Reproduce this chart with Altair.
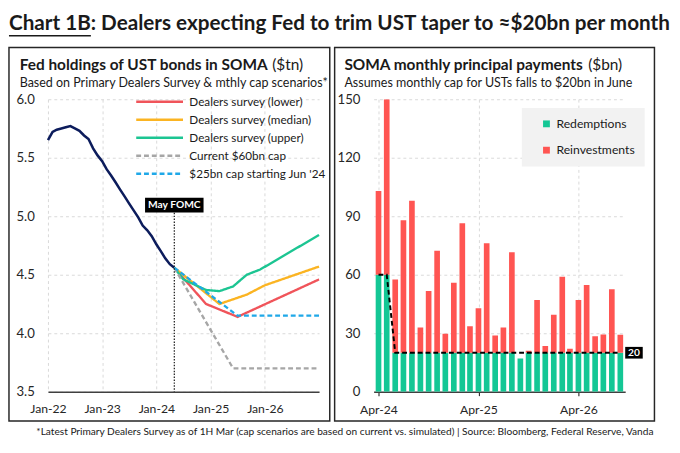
import pandas as pd
import altair as alt

FONT = "Lato"
INK = "#1a1a1a"
GRID = "#d9d9d9"

main_title = "Chart 1B: Dealers expecting Fed to trim UST taper to ≈$20bn per month"
footer_text = ("*Latest Primary Dealers Survey as of 1H Mar (cap scenarios are based on current vs. simulated)"
               " | Source: Bloomberg, Federal Reserve, Vanda")

# ---- left panel: Fed UST holdings in SOMA ($tn)
left_title = "Fed holdings of UST bonds in SOMA"
left_unit = "($tn)"
left_sub = "Based on Primary Dealers Survey & mthly cap scenarios*"

hist_start = "2022-01-01"
hist_values = [5.65, 5.72, 5.74, 5.75, 5.76, 5.77, 5.75, 5.73, 5.69, 5.66,
               5.58, 5.52, 5.47, 5.40, 5.35, 5.29, 5.23, 5.17, 5.11, 5.05,
               4.99, 4.92, 4.88, 4.83, 4.76, 4.70, 4.64, 4.59, 4.56]

scen_names = ["Dealers survey (lower)", "Dealers survey (median)", "Dealers survey (upper)",
              "Current $60bn cap", "$25bn cap starting Jun '24"]
scen_colors = ["#f0545a", "#fbb422", "#1cc592", "#a6a6a6", "#1fa8e8"]
scen_dash = [[1, 0], [1, 0], [1, 0], [5, 3], [5, 3]]

lower_dates = ["2024-05-01", "2024-12-01", "2025-07-01", "2027-01-01"]
lower_vals = [4.56, 4.25, 4.14, 4.46]
median_dates = ["2024-05-01", "2025-03-01", "2025-06-01", "2025-09-01", "2026-01-01", "2027-01-01"]
median_vals = [4.56, 4.25, 4.29, 4.33, 4.41, 4.57]
upper_dates = ["2024-05-01", "2024-07-01", "2024-12-01", "2025-03-01", "2025-06-01",
               "2025-09-01", "2025-12-01", "2027-01-01"]
upper_vals = [4.56, 4.46, 4.37, 4.36, 4.40, 4.50, 4.545, 4.84]
cap60_dates = ["2024-05-01", "2025-06-01", "2027-01-01"]
cap60_vals = [4.56, 3.70, 3.70]
cap25_dates = ["2024-05-01", "2025-07-01", "2027-01-01"]
cap25_vals = [4.56, 4.15, 4.15]

fomc_date = "2024-05-01"
fomc_text = "May FOMC"
fomc_label_y = 5.095
fomc_line_top = 5.03

# ---- right panel: SOMA monthly principal payments ($bn)
right_title = "SOMA monthly principal payments"
right_unit = "($bn)"
right_sub = "Assumes monthly cap for USTs falls to $20bn in June"

pay_start = "2024-04-01"
redemptions = [60, 60, 20, 20, 20, 20, 20, 20, 20, 20,
               20, 20, 20, 20, 20, 20, 20, 17, 20, 20,
               20, 20, 20, 20, 20, 20, 20, 20, 20, 20]
reinvestments = [43, 90, 37.5, 68, 78, 13, 31.6, 52.3, 9.7, 35.9,
                 66.4, 13.6, 22.8, 56.2, 8.9, 13, 51.5, 0, 1, 27,
                 3.5, 19.5, 39, 2, 27, 34.8, 8.5, 9.4, 32.6, 9.2]
cap_line = [60, 60, 20, 20, 20, 20, 20, 20, 20, 20,
            20, 20, 20, 20, 20, 20, 20, 20, 20, 20,
            20, 20, 20, 20, 20, 20, 20, 20, 20, 20]
kinds = ["Redemptions", "Reinvestments"]
kind_colors = ["#14c795", "#ff5552"]

# ---- tables
hist_df = pd.DataFrame({"date": pd.date_range(hist_start, periods=len(hist_values), freq="MS"),
                        "value": hist_values})
scen_parts = []
for name, d, v in zip(scen_names,
                      [lower_dates, median_dates, upper_dates, cap60_dates, cap25_dates],
                      [lower_vals, median_vals, upper_vals, cap60_vals, cap25_vals]):
    scen_parts.append(pd.DataFrame({"date": pd.to_datetime(d), "value": v, "series": name}))
scen_df = pd.concat(scen_parts, ignore_index=True)
fomc_df = pd.DataFrame({"date": [pd.Timestamp(fomc_date)], "ly": [fomc_label_y],
                        "top": [fomc_line_top], "bottom": [3.5], "t": [fomc_text]})

months = pd.date_range(pay_start, periods=len(redemptions), freq="MS")
bars_df = pd.DataFrame({"month": list(months) * 2,
                        "value": redemptions + reinvestments,
                        "kind": [kinds[0]] * len(months) + [kinds[1]] * len(months),
                        "order": [0] * len(months) + [1] * len(months)})
cap_df = pd.DataFrame({"month": months, "value": cap_line})
cap_end = cap_df.tail(1).assign(t=lambda d: d["value"].astype(int).astype(str))

one = pd.DataFrame({"a": [0]})

W1, W2, H = 278, 258, 300
ROW_W = 621  # left plot origin to right frame edge


def dt(s):
    t = pd.Timestamp(s)
    return alt.DateTime(year=t.year, month=t.month, date=t.day)


def label(text, x, y, size, weight="normal", color=INK, align="left"):
    return alt.Chart(pd.DataFrame({"t": [text]})).mark_text(
        align=align, baseline="middle", font=FONT, fontSize=size,
        fontWeight=weight, color=color
    ).encode(x=alt.value(x), y=alt.value(y), text="t:N")


def frame(w):
    return alt.Chart(one).mark_rect(filled=False, stroke="#262626", strokeWidth=1.5).encode(
        x=alt.value(-40), x2=alt.value(w), y=alt.value(-53), y2=alt.value(H + 30))


# ---- left chart
xl = alt.X("date:T",
           scale=alt.Scale(domain=[dt("2022-01-01"), dt("2027-01-01")], nice=False),
           axis=alt.Axis(values=[dt(f"{y}-01-01") for y in range(2022, 2027)], format="%b-%y",
                         title=None, ticks=False, labelFlush=False, labelPadding=11,
                         labelFontSize=12.5, domainColor="#404040", domainWidth=1.6,
                         grid=True, gridDash=[3, 3], gridColor=GRID))
yscale_l = alt.Scale(domain=[3.5, 6.0], nice=False, zero=False)
yl = alt.Y("value:Q", scale=yscale_l,
           axis=alt.Axis(values=[3.5, 4.0, 4.5, 5.0, 5.5, 6.0], format=".1f", title=None,
                         ticks=False, domain=False, labelPadding=14, labelFontSize=13.5,
                         grid=True, gridDash=[3, 3], gridColor=GRID))

leg_lines = alt.Legend(title=None, orient="none", legendX=83, legendY=-5, padding=0,
                       symbolType="M0,0L8,0", symbolSize=144, symbolStrokeWidth=2.5,
                       labelFont=FONT, labelFontSize=12, labelColor=INK,
                       labelOffset=47, rowPadding=4.5)

hist = alt.Chart(hist_df).mark_line(color="#0c1c5c", strokeWidth=2.6).encode(x=xl, y=yl)
scen = alt.Chart(scen_df).mark_line(strokeWidth=2.4).encode(
    x=xl, y=yl,
    color=alt.Color("series:N", scale=alt.Scale(domain=scen_names, range=scen_colors), legend=leg_lines),
    strokeDash=alt.StrokeDash("series:N", scale=alt.Scale(domain=scen_names, range=scen_dash),
                              legend=leg_lines))
fomc_rule = alt.Chart(fomc_df).mark_rule(color="#111", strokeWidth=1.2, strokeDash=[1.5, 1.5]).encode(
    x=xl, y=alt.Y("top:Q", scale=yscale_l), y2="bottom:Q")
fomc_box = alt.Chart(fomc_df).mark_point(shape="M-4,-1L4,-1L4,1L-4,1Z", size=225, filled=True,
                                         color="#000", opacity=1).encode(
    x=xl, y=alt.Y("ly:Q", scale=yscale_l))
fomc_lab = alt.Chart(fomc_df).mark_text(font=FONT, fontSize=10.5, fontWeight="bold", color="white").encode(
    x=xl, y=alt.Y("ly:Q", scale=yscale_l), text="t:N")

left = alt.layer(
    frame(W1 + 11), hist, scen, fomc_rule, fomc_box, fomc_lab,
    label(left_title, -29, -35, 15.8, "bold"),
    label(left_unit, 230, -35, 15.8),
    label(left_sub, -29, -17, 12.8),
).properties(width=W1, height=H)

# ---- right chart
xr = alt.X("month:T",
           scale=alt.Scale(domain=[dt("2024-04-01"), dt("2026-09-01")], nice=False),
           axis=alt.Axis(values=[dt(f"{y}-04-01") for y in (2024, 2025, 2026)], format="%b-%y",
                         title=None, ticks=True, tickSize=4, tickColor="#333", tickWidth=1.2,
                         labelFlush=False, labelPadding=8, labelFontSize=12.5,
                         domainColor="#404040", domainWidth=1.6,
                         grid=True, gridDash=[3, 3], gridColor=GRID))
ys = alt.Scale(domain=[0, 150], nice=False)
yr = alt.Y("value:Q", stack="zero", scale=ys,
           axis=alt.Axis(values=[0, 30, 60, 90, 120, 150], title=None, ticks=False, domain=False,
                         labelPadding=14, labelFontSize=13.5,
                         grid=True, gridDash=[3, 3], gridColor=GRID))

leg_bars = alt.Legend(title=None, orient="none", legendX=152, legendY=9, padding=10,
                      fillColor="#f2f2f2", symbolType="square", symbolSize=49, symbolOffset=9,
                      symbolStrokeWidth=0, labelFont=FONT, labelFontSize=12.5, labelColor=INK,
                      labelOffset=4, rowPadding=14)

bars = alt.Chart(bars_df).mark_bar(size=5.8, clip=True).encode(
    x=xr, y=yr,
    color=alt.Color("kind:N", scale=alt.Scale(domain=kinds, range=kind_colors), legend=leg_bars),
    order=alt.Order("order:Q", sort="ascending"))
cap = alt.Chart(cap_df).mark_line(color="#000", strokeWidth=2, strokeDash=[5, 3]).encode(
    x=xr, y=alt.Y("value:Q", scale=ys))
cap_box = alt.Chart(cap_end).mark_point(shape="M-1.5,-1L1.5,-1L1.5,1L-1.5,1Z", size=144, filled=True,
                                        color="#000", opacity=1, xOffset=14).encode(
    x=xr, y=alt.Y("value:Q", scale=ys))
cap_lab = alt.Chart(cap_end).mark_text(font=FONT, fontSize=10.5, fontWeight="bold", color="white",
                                       dx=14).encode(x=xr, y=alt.Y("value:Q", scale=ys), text="t:N")

right = alt.layer(
    frame(W2 + 30), bars, cap, cap_box, cap_lab,
    label(right_title, -30, -35, 15.8, "bold"),
    label(right_unit, 220, -35, 15.8),
    label(right_sub, -30, -17, 12.8),
).properties(width=W2, height=H)

panels = alt.hconcat(left, right, spacing=3).resolve_scale(
    color="independent", strokeDash="independent"
).resolve_legend(color="independent", strokeDash="independent")

title_row = alt.layer(
    label(main_title, -40, 11, 21.2, "bold"),
    alt.Chart(one).mark_rule(color=INK, strokeWidth=1.5).encode(
        x=alt.value(-40), x2=alt.value(44), y=alt.value(23)),
).properties(width=ROW_W, height=26)

footer_row = label(footer_text, ROW_W, 6, 10.4, align="right").properties(width=ROW_W, height=12)

chart = alt.vconcat(
    title_row,
    alt.vconcat(panels, footer_row, spacing=4),
    spacing=8,
).properties(padding=0, background="white").configure_view(stroke=None).configure_axis(
    labelFont=FONT, labelColor="#262626")

chart.save("out.html", embed_options={"renderer": "svg", "actions": False})
